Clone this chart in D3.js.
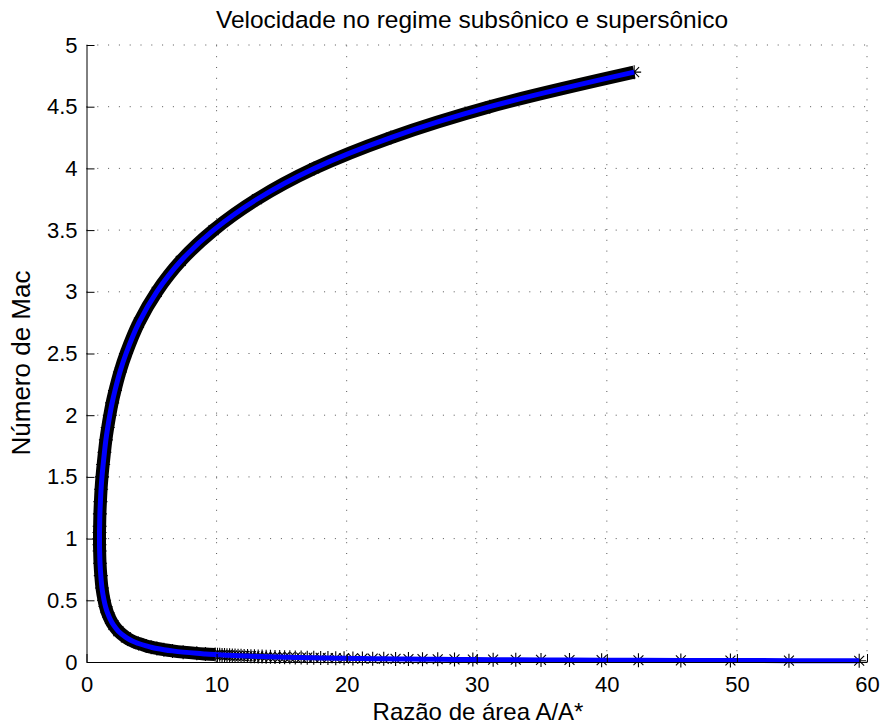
<!DOCTYPE html>
<html><head><meta charset="utf-8">
<script src="https://cdn.jsdelivr.net/npm/d3@7"></script>
<style>
body{margin:0;background:#fff}
svg{display:block}
text{font-family:"Liberation Sans",Arial,Helvetica,sans-serif;fill:#000}
</style>
</head><body>
<svg id="chart" width="882" height="725"></svg>
<script>
// Mach number (y) and area ratio A/A* (x)
const machNumbers = [
  0.010,0.011,0.012,0.013,0.014,0.015,0.016,0.017,0.018,0.019,
  0.020,0.021,0.022,0.023,0.024,0.025,0.026,0.027,0.028,0.029,
  0.030,0.031,0.032,0.033,0.034,0.035,0.036,0.037,0.038,0.039,
  0.040,0.041,0.042,0.043,0.044,0.045,0.046,0.047,0.048,0.049,
  0.050,0.051,0.052,0.053,0.054,0.055,0.056,0.057,0.058,0.059,
  0.060,0.065,0.070,0.080,0.090,0.100,0.110,0.120,0.130,0.150,
  0.170,0.200,0.250,0.300,0.350,0.400,0.450,0.500,0.600,0.700,
  0.800,0.900,0.950,1.000,1.050,1.100,1.200,1.300,1.400,1.500,
  1.600,1.700,1.800,1.900,2.000,2.100,2.200,2.350,2.500,2.750,
  3.000,3.250,3.500,3.750,4.000,4.250,4.500,4.780
];
const areaRatios = [
  59.40,54.00,49.50,45.69,42.43,39.60,37.13,34.94,33.00,31.26,
  29.70,28.29,27.00,25.83,24.75,23.76,22.85,22.00,21.21,20.48,
  19.80,19.16,18.56,18.00,17.47,16.97,16.50,16.05,15.63,15.23,
  14.85,14.49,14.14,13.81,13.50,13.20,12.91,12.64,12.38,12.12,
  11.88,11.65,11.42,11.21,11.00,10.80,10.61,10.42,10.24,10.07,
  9.89,9.14,8.48,7.43,6.61,5.95,5.41,4.97,4.59,4.00,
  3.52,3.03,2.45,2.07,1.81,1.61,1.46,1.35,1.19,1.10,
  1.04,1.01,1.00,1.00,1.00,1.01,1.03,1.07,1.12,1.19,
  1.28,1.38,1.49,1.63,1.79,1.97,2.19,2.57,3.04,4.03,
  5.40,7.25,9.77,13.10,17.50,23.40,31.00,42.10
];
const xTicks = [0,10,20,30,40,50,60];
const yTicks = [0,0.5,1,1.5,2,2.5,3,3.5,4,4.5,5];
const titleText = "Velocidade no regime subsônico e supersônico";
const xLabelText = "Razão de área A/A*";
const yLabelText = "Número de Mac";
const denseFrom = 0.06; // markers overlap into a solid band above this Mach number

(function(){
const svg = d3.select("#chart");
const pL = 86.5, pR = 867, pT = 45, pB = 662;
const x = d3.scaleLinear().domain([0,60]).range([pL,pR]);
const y = d3.scaleLinear().domain([0,5]).range([pB,pT]);

const data = machNumbers.map((m,i)=>({m, a: areaRatios[i]}));

// grid
const grid = svg.append("g");
grid.selectAll("line.gx").data(xTicks.slice(1)).join("line")
  .attr("x1",d=>x(d)).attr("x2",d=>x(d)).attr("y1",pB).attr("y2",pT)
  .attr("stroke","#555").attr("stroke-width",1).attr("stroke-dasharray","1,9.8");
grid.selectAll("line.gy").data(yTicks.slice(1)).join("line")
  .attr("x1",pL).attr("x2",pR).attr("y1",d=>y(d)).attr("y2",d=>y(d))
  .attr("stroke","#555").attr("stroke-width",1).attr("stroke-dasharray","1,9.8");

const line = d3.line().x(d=>x(d.a)).y(d=>y(d.m)).curve(d3.curveCatmullRom.alpha(0.5));

// dense marker band
svg.append("path").datum(data.filter(d=>d.m>=denseFrom))
  .attr("d",line).attr("fill","none").attr("stroke","#000")
  .attr("stroke-width",13).attr("stroke-linejoin","round");

// star markers
const star = "M0,-7V7M-7,0H7M-4.95,-4.95L4.95,4.95M-4.95,4.95L4.95,-4.95";
svg.append("g").selectAll("path").data(data).join("path")
  .attr("transform",d=>`translate(${x(d.a)},${y(d.m)})`)
  .attr("d",star).attr("fill","none").attr("stroke","#000").attr("stroke-width",1.1);

// blue line
svg.append("path").datum(data).attr("d",line).attr("fill","none")
  .attr("stroke","#0000ff").attr("stroke-width",5).attr("stroke-linejoin","round");

// axes
const xAxis = d3.axisBottom(x).tickValues(xTicks).tickFormat(d3.format("d"))
  .tickSizeInner(-8).tickSizeOuter(0).tickPadding(14);
const yAxis = d3.axisLeft(y).tickValues(yTicks).tickFormat(d=>String(d))
  .tickSizeInner(-8).tickSizeOuter(0).tickPadding(9);
const gx = svg.append("g").attr("transform",`translate(0,${pB})`).call(xAxis);
const gy = svg.append("g").attr("transform",`translate(${pL},0)`).call(yAxis);
[gx,gy].forEach(g=>{
  g.attr("font-family",null).attr("font-size",null);
  g.selectAll("text").style("font-size","22px").attr("fill","#000");
  g.selectAll("line").attr("stroke","#000");
  g.select(".domain").attr("stroke","#000");
});

svg.append("text").attr("x",472).attr("y",28).attr("text-anchor","middle")
  .style("font-size","24.5px").text(titleText);
svg.append("text").attr("x",478).attr("y",720).attr("text-anchor","middle")
  .style("font-size","24px").text(xLabelText);
svg.append("text").attr("transform","translate(30,363) rotate(-90)")
  .attr("text-anchor","middle").style("font-size","26px").text(yLabelText);
})();
</script>
</body></html>
